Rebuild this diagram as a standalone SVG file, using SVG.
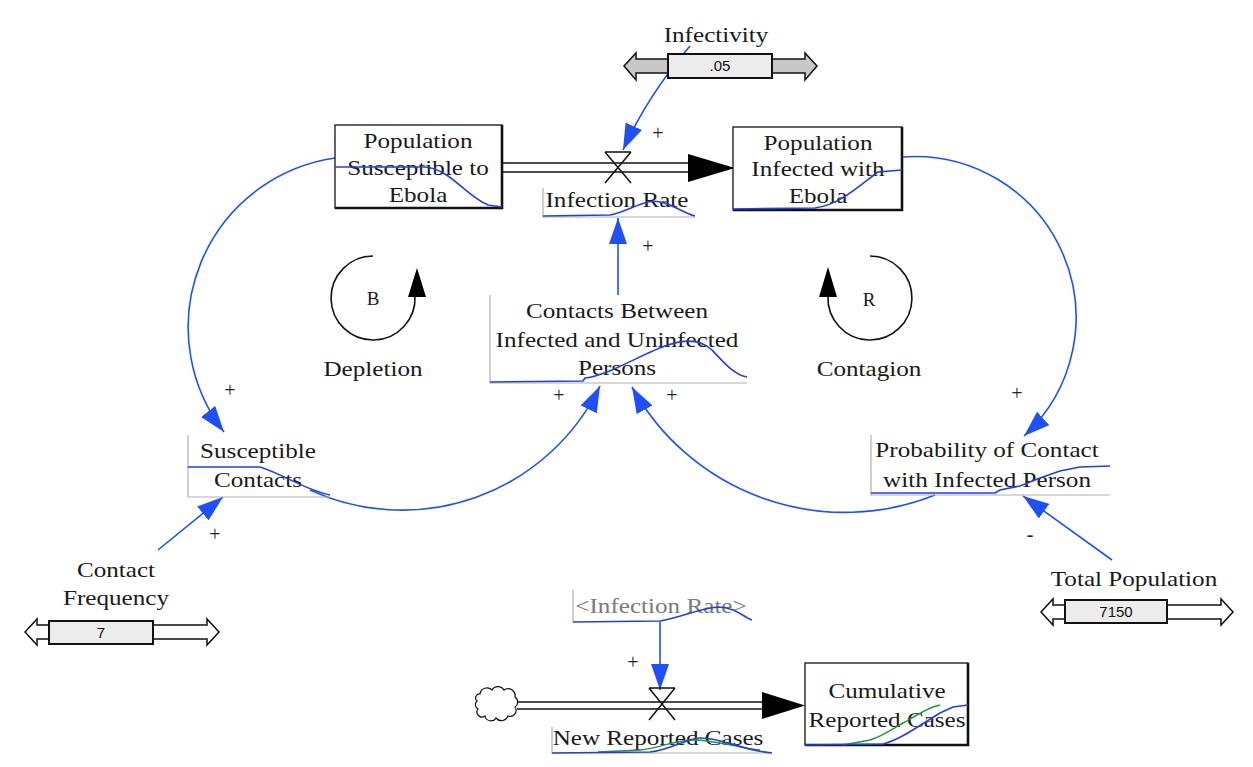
<svg xmlns="http://www.w3.org/2000/svg" width="1253" height="767" viewBox="0 0 1253 767">
<defs>
<style>
.lbl{font-family:"Liberation Serif","Times New Roman",serif;font-size:21.5px;fill:#1a1a1a;text-anchor:middle}
.gray{fill:#7a7a7a}
.sign{font-family:"Liberation Serif","Times New Roman",serif;font-size:20px;fill:#222;text-anchor:middle}
.num{font-family:"Liberation Sans",Arial,sans-serif;font-size:15px;fill:#111;text-anchor:middle}
.conn{fill:none;stroke:#1e50f5;stroke-width:1.6;marker-end:url(#ah)}
.spark{fill:none;stroke:#2440d8;stroke-width:1.6}
.sparkg{fill:none;stroke:#1f9a3a;stroke-width:1.4}
.frame{fill:none;stroke:#b0b0b0;stroke-width:1.2}
.box{fill:#fff;stroke:#111;stroke-width:1.3}
.shadow{fill:none;stroke:#111;stroke-width:2.6}
.pipe{stroke:#111;stroke-width:1.6}
.valve{fill:none;stroke:#111;stroke-width:1.5}
.loop{fill:none;stroke:#111;stroke-width:1.6}
.slider{stroke:#111;stroke-width:1.5}
.body{fill:#ececec;stroke:#111;stroke-width:2}
.letter{font-family:"Liberation Serif","Times New Roman",serif;font-size:19px;fill:#1a1a1a;text-anchor:middle}
</style>
<marker id="ah" viewBox="0 0 26 18" refX="26" refY="9" markerWidth="26" markerHeight="18" markerUnits="userSpaceOnUse" orient="auto">
<path d="M0,0 L26,9 L0,18 z" fill="#1e50f5"/>
</marker>
</defs>
<rect width="1253" height="767" fill="#fff"/>

<g id="connectors">
<path class="conn" d="M690,46 Q648,95 623,150"/>
<path class="conn" d="M618,295 L618,218"/>
<path class="conn" d="M335,158 A171,171 0 0 0 224,432"/>
<path class="conn" d="M902,157 A161,161 0 0 1 1024,436"/>
<path class="conn" d="M310,490 A220,220 0 0 0 600,386"/>
<path class="conn" d="M935,495 A243,243 0 0 1 632,387"/>
<path class="conn" d="M158,550 L223,497"/>
<path class="conn" d="M1112,560 L1023,496"/>
<path class="conn" d="M660,622 L660,690"/>
<text class="sign" x="658" y="140">+</text>
<text class="sign" x="648" y="253">+</text>
<text class="sign" x="230" y="397">+</text>
<text class="sign" x="559" y="402">+</text>
<text class="sign" x="672" y="402">+</text>
<text class="sign" x="1017" y="400">+</text>
<text class="sign" x="215" y="541">+</text>
<text class="sign" x="1030" y="541">-</text>
<text class="sign" x="633" y="669">+</text>
</g>

<g id="infection-flow">
<line class="pipe" x1="502" y1="163" x2="690" y2="163"/>
<line class="pipe" x1="502" y1="172" x2="690" y2="172"/>
<polygon points="688,154 735,168 688,182" fill="#000"/>
<path class="valve" d="M605,152 L631,152 M605,152 L631,183 M631,152 L605,183"/>
</g>

<g id="infection-rate">
<path class="frame" d="M543,188 L543,217 L695,217"/>
<text class="lbl" transform="matrix(1.17 0 0 1 617 0)" y="207">Infection Rate</text>
<path class="spark" d="M543,216 L610,215 C625,212 635,205 648,202 C665,198 680,212 695,216"/>
</g>

<g id="infectivity">
<text class="lbl" transform="matrix(1.17 0 0 1 716 0)" y="42">Infectivity</text>
<polygon class="slider" fill="#c8c8c8" points="624,66 636,53 636,59 805,59 805,53 817,66 805,80 805,73 636,73 636,80"/>
<rect class="body" x="668" y="54" width="104" height="24"/>
<text class="num" x="720" y="71">.05</text>
</g>

<g id="pop-susceptible">
<rect class="box" x="335" y="125" width="167" height="83"/>
<path class="shadow" d="M502,125 L502,208 L335,208"/>
<text class="lbl" transform="matrix(1.17 0 0 1 418 0)"><tspan x="0" y="148">Population</tspan><tspan x="0" y="175">Susceptible to</tspan><tspan x="0" y="202">Ebola</tspan></text>
<path class="spark" d="M335,167 L425,167 C450,169 465,195 488,205 L502,207"/>
</g>

<g id="pop-infected">
<rect class="box" x="733" y="127" width="169" height="83"/>
<path class="shadow" d="M902,127 L902,210 L733,210"/>
<text class="lbl" transform="matrix(1.17 0 0 1 818 0)"><tspan x="0" y="150">Population</tspan><tspan x="0" y="176">Infected with</tspan><tspan x="0" y="203">Ebola</tspan></text>
<path class="spark" d="M733,209 L815,208 C840,205 860,185 878,172 L902,170"/>
</g>

<g id="contacts-between">
<path class="frame" d="M490,295 L490,383 L747,383"/>
<text class="lbl" transform="matrix(1.17 0 0 1 617 0)"><tspan x="0" y="318">Contacts Between</tspan><tspan x="0" y="347">Infected and Uninfected</tspan><tspan x="0" y="375">Persons</tspan></text>
<path class="spark" d="M490,382 L583,381 L585,378 C610,375 645,352 668,345 C685,339 700,339 712,350 C725,364 735,375 747,377"/>
</g>

<g id="loop-B">
<path class="loop" d="M373,256 A42,42 0 1 0 415,296"/>
<polygon points="417,268 408,297 426,297" fill="#000"/>
<text class="letter" x="373" y="305">B</text>
<text class="lbl" transform="matrix(1.17 0 0 1 373 0)" y="376">Depletion</text>
</g>

<g id="loop-R">
<path class="loop" d="M870,256 A42,42 0 1 1 828,296"/>
<polygon points="828,267 819,297 837,297" fill="#000"/>
<text class="letter" x="869" y="306">R</text>
<text class="lbl" transform="matrix(1.17 0 0 1 869 0)" y="376">Contagion</text>
</g>

<g id="susceptible-contacts">
<path class="frame" d="M188,435 L188,497 L330,497"/>
<text class="lbl" transform="matrix(1.17 0 0 1 258 0)"><tspan x="0" y="458">Susceptible</tspan><tspan x="0" y="487">Contacts</tspan></text>
<path class="spark" d="M188,467 L260,467 C285,475 305,490 330,495"/>
</g>

<g id="probability-contact">
<path class="frame" d="M871,435 L871,495 L1110,495"/>
<text class="lbl" transform="matrix(1.17 0 0 1 987 0)"><tspan x="0" y="457">Probability of Contact</tspan><tspan x="0" y="487">with Infected Person</tspan></text>
<path class="spark" d="M871,493 L995,493 L1000,490 L1020,486 L1040,478 L1060,471 L1080,467 L1110,466"/>
</g>

<g id="contact-frequency">
<text class="lbl" transform="matrix(1.17 0 0 1 116 0)"><tspan x="0" y="577">Contact</tspan><tspan x="0" y="605">Frequency</tspan></text>
<polygon class="slider" fill="#fff" points="25,632 37,619 37,625 207,625 207,619 219,632 207,645 207,639 37,639 37,645"/>
<rect class="body" x="49" y="621" width="104" height="23"/>
<text class="num" x="101" y="638">7</text>
</g>

<g id="total-population">
<text class="lbl" transform="matrix(1.17 0 0 1 1134 0)" y="586">Total Population</text>
<polygon class="slider" fill="#fff" points="1041,612 1053,599 1053,605 1221,605 1221,599 1233,612 1221,625 1221,619 1053,619 1053,625"/>
<rect class="body" x="1065" y="600" width="102" height="23"/>
<text class="num" x="1116" y="617">7150</text>
</g>

<g id="infection-rate-shadow">
<path class="frame" d="M573,590 L573,622"/>
<text class="lbl gray" transform="matrix(1.17 0 0 1 661 0)" y="613">&lt;Infection Rate&gt;</text>
<path class="spark" d="M573,622 L660,621 C680,618 700,608 718,607 C735,607 745,618 752,620"/>
</g>

<g id="source-cloud">
<path fill="#fff" stroke="#111" stroke-width="1.2" d="M480,694 a7,7 0 0 1 12,-4 a7,7 0 0 1 12,0 a7,7 0 0 1 11,7 a6,6 0 0 1 0,10 a6,6 0 0 1 -7,9 a7,7 0 0 1 -12,2 a6,6 0 0 1 -11,-2 a5,5 0 0 1 -7,-7 a5,5 0 0 1 -1,-8 a4,4 0 0 1 3,-7 z"/>
</g>

<g id="reported-flow">
<line class="pipe" x1="517" y1="702" x2="764" y2="702"/>
<line class="pipe" x1="517" y1="709" x2="764" y2="709"/>
<polygon points="762,692 805,705.5 762,719" fill="#000"/>
<path class="valve" d="M649,688 L675,688 M649,688 L675,720 M675,688 L649,720"/>
</g>

<g id="new-reported-cases">
<path class="frame" d="M552,727 L552,753 L772,753"/>
<text class="lbl" transform="matrix(1.17 0 0 1 658 0)" y="745">New Reported Cases</text>
<path class="sparkg" d="M598,752 L640,750 C660,748 675,740 693,740 C715,740 740,748 760,750"/>
<path class="spark" d="M552,753 L650,752 C670,750 685,739 700,738 C720,737 740,750 772,753"/>
</g>

<g id="cumulative-reported">
<rect class="box" x="805" y="663" width="163" height="82"/>
<path class="shadow" d="M968,663 L968,745 L805,745"/>
<text class="lbl" transform="matrix(1.17 0 0 1 887 0)"><tspan x="0" y="698">Cumulative</tspan><tspan x="0" y="727">Reported Cases</tspan></text>
<path class="sparkg" d="M843,745 L870,740 C885,735 895,727 905,722 C915,716 925,710 933,707 L940,705"/>
<path class="spark" d="M805,745 L883,744 C900,740 920,725 940,713 L953,707 L968,705"/>
</g>
</svg>
